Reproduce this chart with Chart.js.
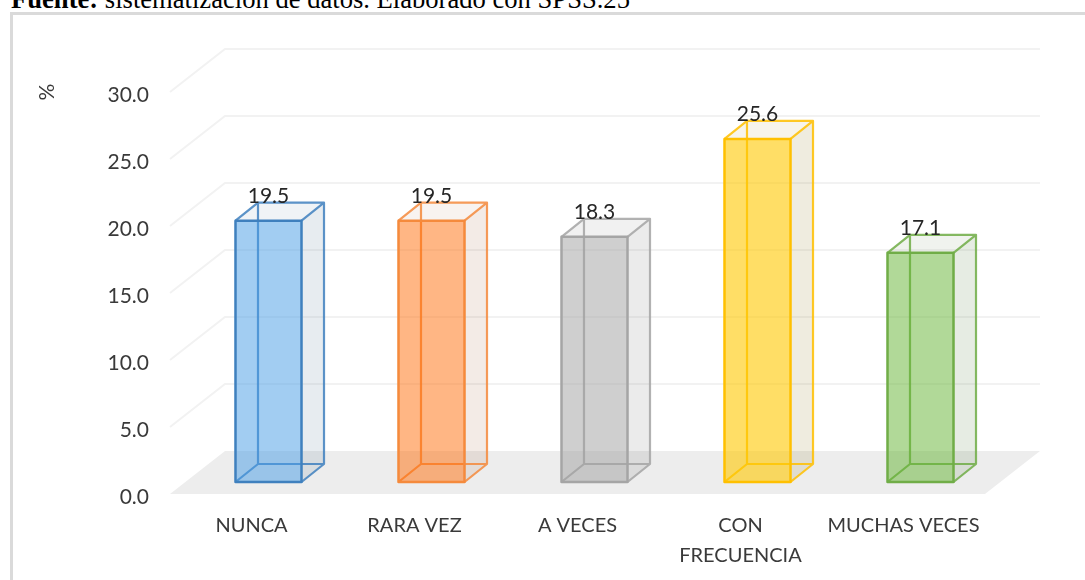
<!DOCTYPE html>
<html><head><meta charset="utf-8">
<script src="https://cdn.jsdelivr.net/npm/chart.js@4"></script>
<style>
html,body{margin:0;padding:0;background:#fff;overflow:hidden}
body{width:1085px;height:580px;position:relative}
#src{position:absolute;left:11px;top:-16px;font:26.6px "Liberation Serif",serif;color:#000;white-space:nowrap;line-height:30px}
#frame{position:absolute;left:10px;top:12px;width:1100px;height:600px;border:3px solid #DADADA;box-sizing:border-box}
canvas{position:absolute;left:0;top:0}
</style></head>
<body>
<div id="src"><b>Fuente:</b> sistematización de datos. Elaborado con SPSS.25</div>
<div id="frame"></div>
<canvas id="c" width="1085" height="580"></canvas>
<script>
const categories = ["NUNCA", "RARA VEZ", "A VECES", ["CON", "FRECUENCIA"], "MUCHAS VECES"];
const values = [19.5, 19.5, 18.3, 25.6, 17.1];
const frontFill = ["rgba(70,155,230,.5)", "rgba(255,110,10,.5)", "rgba(160,160,160,.5)", "rgba(255,200,0,.6)", "rgba(100,180,50,.5)"];
const edge = ["#3F80BE", "#F58A3C", "#A5A5A5", "#FFC000", "#70AD47"];
const sideFill = ["rgba(91,125,155,.15)", "rgba(160,100,60,.13)", "rgba(120,120,120,.15)", "rgba(150,125,40,.15)", "rgba(90,125,70,.15)"];
const topFill = ["rgba(91,125,155,.09)", "rgba(160,100,60,.08)", "rgba(120,120,120,.1)", "rgba(170,130,30,.09)", "rgba(90,125,70,.09)"];
const FONT = '21px Lato, sans-serif';
const TICK = '#3A3A3A';

const plane = -3;                     // wall and floor relative to the value scale
const depth = {dx: 55, dy: -43};      // full wall depth
const barIn = {dx: 17, dy: -15};      // front of bars relative to the value scale
const barD = {dx: 22.5, dy: -18};     // depth of a bar

const threeD = {
  id: 'threeD',
  beforeDatasetsDraw(chart) {
    const {ctx, chartArea: a, scales: {y}} = chart;
    ctx.save();
    // floor
    const fy = a.bottom + plane;
    ctx.fillStyle = '#EDEDED';
    ctx.beginPath();
    ctx.moveTo(a.left, fy);
    ctx.lineTo(a.right, fy);
    ctx.lineTo(a.right + depth.dx, fy + depth.dy);
    ctx.lineTo(a.left + depth.dx, fy + depth.dy);
    ctx.closePath();
    ctx.fill();
    // wall grid
    ctx.strokeStyle = '#F2F2F2';
    ctx.lineWidth = 2;
    y.ticks.forEach(t => {
      if (t.value === 0) return;
      const p = y.getPixelForValue(t.value) + plane;
      ctx.beginPath();
      ctx.moveTo(a.left, p);
      ctx.lineTo(a.left + depth.dx, p + depth.dy);
      ctx.lineTo(a.right + depth.dx, p + depth.dy);
      ctx.stroke();
    });
    // back, side and top of each box
    chart.getDatasetMeta(0).data.forEach((b, i) => {
      const w = b.width / 2;
      const l = b.x - w + barIn.dx, r = b.x + w + barIn.dx;
      const t = b.y + barIn.dy, bt = b.base + barIn.dy;
      const d = barD;
      ctx.lineWidth = 2.2;
      ctx.lineJoin = 'round';
      ctx.strokeStyle = edge[i];
      ctx.fillStyle = sideFill[i];
      ctx.beginPath();
      ctx.moveTo(r, t); ctx.lineTo(r + d.dx, t + d.dy);
      ctx.lineTo(r + d.dx, bt + d.dy); ctx.lineTo(r, bt);
      ctx.closePath(); ctx.fill();
      ctx.fillStyle = topFill[i];
      ctx.beginPath();
      ctx.moveTo(l, t); ctx.lineTo(l + d.dx, t + d.dy);
      ctx.lineTo(r + d.dx, t + d.dy); ctx.lineTo(r, t);
      ctx.closePath(); ctx.fill();
      ctx.beginPath();
      ctx.moveTo(l, t); ctx.lineTo(l + d.dx, t + d.dy); ctx.lineTo(r + d.dx, t + d.dy); ctx.lineTo(r, t);
      ctx.moveTo(r + d.dx, t + d.dy); ctx.lineTo(r + d.dx, bt + d.dy); ctx.lineTo(r, bt);
      ctx.moveTo(l + d.dx, t + d.dy); ctx.lineTo(l + d.dx, bt + d.dy);
      ctx.moveTo(l, bt); ctx.lineTo(l + d.dx, bt + d.dy); ctx.lineTo(r + d.dx, bt + d.dy);
      ctx.globalAlpha = 0.85;
      ctx.stroke();
      ctx.globalAlpha = 1;
    });
    ctx.restore();
    ctx.save();
    ctx.translate(barIn.dx, barIn.dy);
  },
  afterDatasetsDraw(chart) {
    const {ctx, scales: {y}} = chart;
    ctx.restore();
    ctx.save();
    // front edges, centred on the bar outline
    chart.getDatasetMeta(0).data.forEach((b, i) => {
      ctx.strokeStyle = edge[i];
      ctx.lineWidth = 2.5;
      ctx.lineJoin = 'round';
      ctx.strokeRect(b.x - b.width / 2 + barIn.dx, b.y + barIn.dy, b.width, b.base - b.y);
    });
    ctx.font = FONT;
    ctx.fillStyle = '#262626';
    ctx.textAlign = 'center';
    ctx.textBaseline = 'alphabetic';
    chart.getDatasetMeta(0).data.forEach((b, i) => {
      ctx.fillText(values[i].toFixed(1), b.x + barIn.dx, b.y + barIn.dy - 18);
    });
    // axis unit
    ctx.translate(47, y.getPixelForValue(30) + plane);
    ctx.rotate(-Math.PI / 2);
    ctx.fillStyle = TICK;
    ctx.textBaseline = 'middle';
    ctx.fillText('%', 0, 0);
    ctx.restore();
  }
};

new Chart(document.getElementById('c'), {
  type: 'bar',
  data: {labels: categories, datasets: [{
    data: values,
    backgroundColor: frontFill,
    borderWidth: 0,
    barPercentage: 0.405,
    categoryPercentage: 1,
    clip: false
  }]},
  options: {
    responsive: false,
    animation: false,
    events: [],
    layout: {padding: {top: 95, right: 100, left: 0, bottom: 0}},
    plugins: {legend: {display: false}, tooltip: {enabled: false}, title: {display: false}},
    scales: {
      x: {
        afterFit(s) { s.height = 83; },
        grid: {display: false},
        border: {display: false},
        ticks: {font: {family: 'Lato, sans-serif', size: 20, lineHeight: 1.5}, color: TICK, padding: 6, autoSkip: false, maxRotation: 0, minRotation: 0}
      },
      y: {
        min: 0, max: 30,
        afterFit(s) { s.width = 170; },
        grid: {display: false, drawTicks: false},
        border: {display: false},
        ticks: {stepSize: 5, font: {family: 'Lato, sans-serif', size: 21}, color: TICK, padding: 21, callback: v => v.toFixed(1)}
      }
    }
  },
  plugins: [threeD]
});
</script>
</body></html>
